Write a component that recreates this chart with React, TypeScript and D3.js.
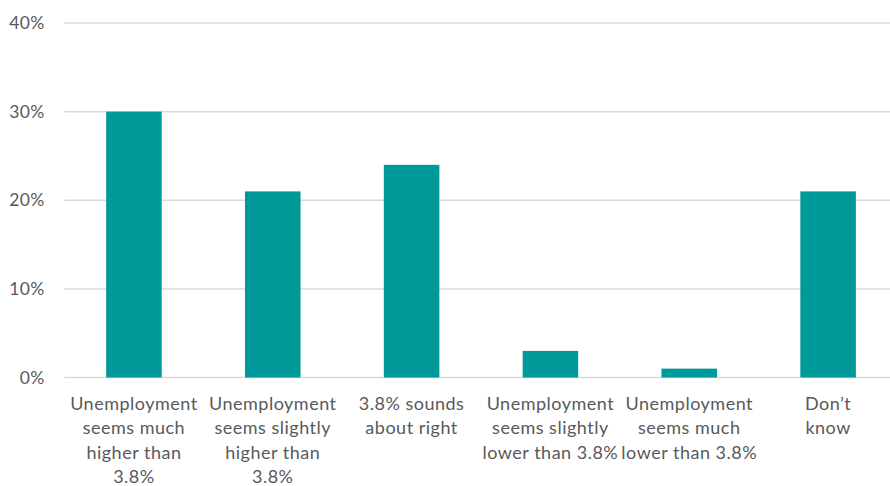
import React from "react";
import * as d3 from "d3";

const categories: string[][] = [
  ["Unemployment", "seems much", "higher than", "3.8%"],
  ["Unemployment", "seems slightly", "higher than", "3.8%"],
  ["3.8% sounds", "about right"],
  ["Unemployment", "seems slightly", "lower than 3.8%"],
  ["Unemployment", "seems much", "lower than 3.8%"],
  ["Don\u2019t", "know"],
];
const values: number[] = [30, 21, 24, 3, 1, 21];
const yTicks: number[] = [0, 10, 20, 30, 40];

const W = 890;
const H = 486;
const left = 64.5;
const right = 897.5;
const top = 23;
const bottom = 377.5;

export default function App() {
  const x = d3
    .scaleBand<number>()
    .domain(values.map((_, i) => i))
    .range([left, right])
    .paddingInner(0.6)
    .paddingOuter(0.3);
  const y = d3.scaleLinear().domain([0, 40]).range([bottom, top]);
  const font = "Lato, 'Open Sans', sans-serif";
  const color = "#595959";
  return (
    <svg
      width={W}
      height={H}
      style={{ position: "absolute", left: 0, top: 0, background: "#fff" }}
    >
      {yTicks.map((t) => (
        <g key={t}>
          <line
            x1={left}
            x2={W}
            y1={y(t)}
            y2={y(t)}
            stroke="#d9d9d9"
            strokeWidth={1.5}
          />
          <text
            x={44.5}
            y={y(t)}
            dy="0.35em"
            textAnchor="end"
            fontFamily={font}
            fontSize={17.5}
            letterSpacing={0.3}
            fill={color}
          >
            {t}%
          </text>
        </g>
      ))}
      {values.map((v, i) => (
        <rect
          key={i}
          x={x(i)}
          y={y(v)}
          width={x.bandwidth()}
          height={y(0) - y(v)}
          fill="#009999"
        />
      ))}
      {categories.map((lines, i) => (
        <text
          key={i}
          x={(x(i) as number) + x.bandwidth() / 2}
          y={409.5}
          textAnchor="middle"
          fontFamily={font}
          fontSize={18}
          letterSpacing={0.5}
          fill={color}
        >
          {lines.map((l, j) => (
            <tspan key={j} x={(x(i) as number) + x.bandwidth() / 2} dy={j === 0 ? 0 : 24.5}>
              {l}
            </tspan>
          ))}
        </text>
      ))}
    </svg>
  );
}
